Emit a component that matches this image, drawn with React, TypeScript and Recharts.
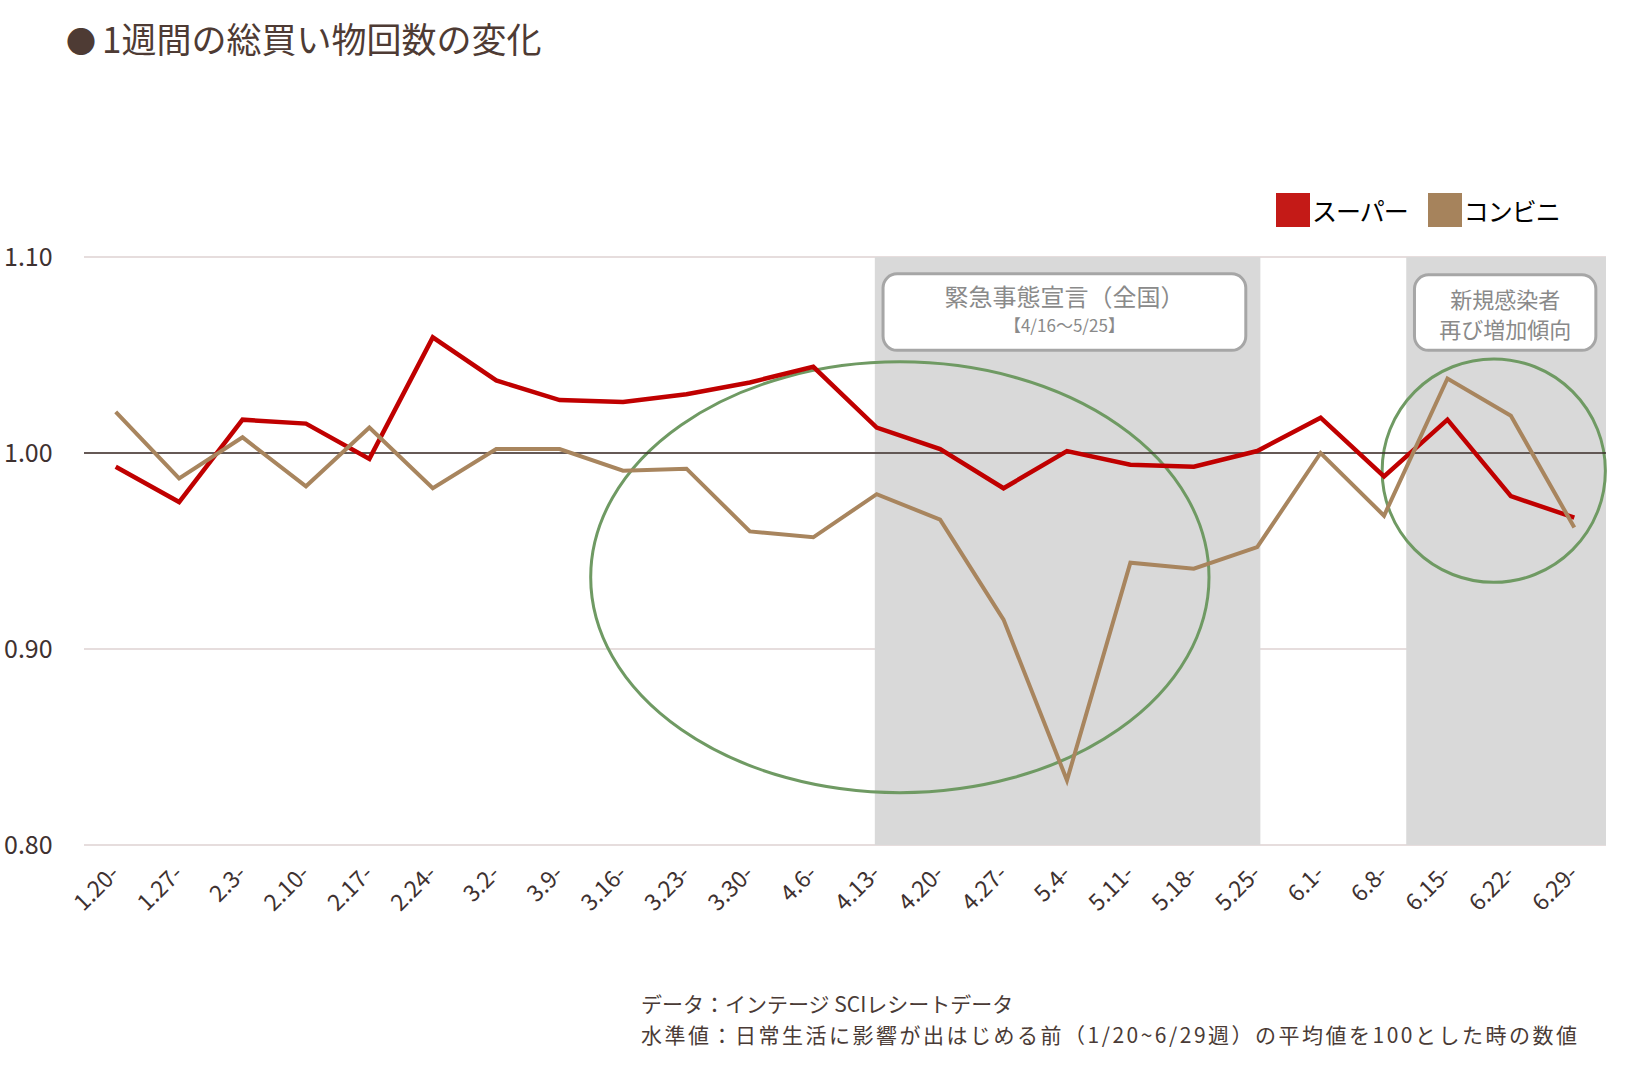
import { CartesianGrid, Line, LineChart, ReferenceArea, ReferenceLine, XAxis, YAxis } from 'recharts';

// week labels (start day of each week)
const categories = [
  '1.20-', '1.27-', '2.3-', '2.10-', '2.17-', '2.24-', '3.2-', '3.9-', '3.16-', '3.23-', '3.30-', '4.6-',
  '4.13-', '4.20-', '4.27-', '5.4-', '5.11-', '5.18-', '5.25-', '6.1-', '6.8-', '6.15-', '6.22-', '6.29-',
];
const superValues = [
  0.993, 0.975, 1.017, 1.015, 0.997, 1.059, 1.037, 1.027, 1.026, 1.030, 1.036, 1.044,
  1.013, 1.002, 0.982, 1.001, 0.994, 0.993, 1.001, 1.018, 0.988, 1.017, 0.978, 0.967,
];
const konbiniValues = [
  1.021, 0.987, 1.008, 0.983, 1.013, 0.982, 1.002, 1.002, 0.991, 0.992, 0.960, 0.957,
  0.979, 0.966, 0.915, 0.833, 0.944, 0.941, 0.952, 1.000, 0.968, 1.038, 1.019, 0.962,
];
const yTicks = [0.8, 0.9, 1.0, 1.1];
const seriesNames = ['スーパー', 'コンビニ'];
const notes = [
  'データ：インテージ SCIレシートデータ',
  '水準値：日常生活に影響が出はじめる前（1/20~6/29週）の平均値を100とした時の数値',
];

const RED = '#c00000';
const TAN = '#a8855e';
const GREEN = '#6f9a63';
const FONT = '"Noto Sans CJK JP", "Noto Sans", sans-serif';
const INK = '#3e3130';

const data = categories.map((label, i) => ({
  i,
  label,
  super: superValues[i],
  konbini: konbiniValues[i],
}));

const XTick = (props: any) => {
  const { x, y, payload } = props;
  return (
    <text
      x={x + 5}
      y={y + 22}
      textAnchor="end"
      fontSize={23}
      fill={INK}
      fontFamily={FONT}
      transform={`rotate(-45 ${x + 5} ${y + 22})`}
    >
      {categories[payload.value]}
    </text>
  );
};

const YTick = (props: any) => {
  const { y, payload } = props;
  return (
    <text x={4} y={y} dy={9} textAnchor="start" fontSize={25} fill={INK} fontFamily={FONT}>
      {Number(payload.value).toFixed(2)}
    </text>
  );
};

// ellipse inscribed in the reference rect
const ellipseShape = (p: any) => (
  <ellipse
    cx={p.x + p.width / 2}
    cy={p.y + p.height / 2}
    rx={p.width / 2}
    ry={p.height / 2}
    fill="none"
    stroke={GREEN}
    strokeWidth={3}
  />
);

const calloutShape = (lines: { text: string; size: number; dy: number }[]) => (p: any) => (
  <g>
    <rect
      x={p.x}
      y={p.y}
      width={p.width}
      height={p.height}
      rx={14}
      ry={14}
      fill="#fff"
      stroke="#a6a6a6"
      strokeWidth={3}
    />
    {lines.map((l, k) => (
      <text
        key={k}
        x={p.x + p.width / 2}
        y={p.y + l.dy}
        textAnchor="middle"
        fontSize={l.size}
        fill="#8a8a8a"
        fontFamily={FONT}
      >
        {l.text}
      </text>
    ))}
  </g>
);

export default function App() {
  return (
    <div
      style={{
        position: 'absolute',
        left: 0,
        top: 0,
        width: 1645,
        height: 1065,
        background: '#fff',
        fontFamily: FONT,
        overflow: 'hidden',
      }}
    >
      <div style={{ position: 'absolute', left: 66, top: 12, fontSize: 35, color: '#4e3b34', whiteSpace: 'nowrap' }}>
        <span style={{ fontSize: 30, marginRight: 6 }}>●</span>1週間の総買い物回数の変化
      </div>

      <div
        style={{
          position: 'absolute',
          left: 1276,
          top: 192,
          display: 'flex',
          alignItems: 'center',
          fontSize: 25,
          color: '#000',
        }}
      >
        {seriesNames.map((n, k) => (
          <div key={n} style={{ display: 'flex', alignItems: 'center', marginRight: 20 }}>
            <div style={{ width: 34, height: 34, background: k === 0 ? '#c41a17' : '#a6835c', marginRight: 2 }} />
            <span style={{ letterSpacing: -1 }}>{n}</span>
          </div>
        ))}
      </div>

      <div style={{ position: 'absolute', left: 0, top: 0 }}>
        <LineChart width={1645} height={1065} data={data} margin={{ top: 257, right: 39, bottom: 160, left: 0 }}>
          <CartesianGrid horizontal vertical={false} stroke="#e6dddd" strokeWidth={2} />
          <ReferenceArea x1={11.97} x2={18.05} y1={0.8} y2={1.1} fill="#d9d9d9" fillOpacity={1} stroke="none" />
          <ReferenceArea x1={20.35} x2={23.5} y1={0.8} y2={1.1} fill="#d9d9d9" fillOpacity={1} stroke="none" />
          <ReferenceLine y={1} stroke="#3a2c29" strokeWidth={1.5} />
          <XAxis
            dataKey="i"
            type="number"
            domain={[-0.5, 23.5]}
            ticks={categories.map((_, i) => i)}
            interval={0}
            tick={<XTick />}
            axisLine={false}
            tickLine={false}
            height={60}
          />
          <YAxis
            domain={[0.8, 1.1]}
            ticks={yTicks}
            tick={<YTick />}
            axisLine={false}
            tickLine={false}
            width={84}
          />
          <Line
            dataKey="super"
            name={seriesNames[0]}
            stroke={RED}
            strokeWidth={4.5}
            dot={false}
            isAnimationActive={false}
          />
          <Line
            dataKey="konbini"
            name={seriesNames[1]}
            stroke={TAN}
            strokeWidth={4}
            dot={false}
            isAnimationActive={false}
          />
          <ReferenceArea x1={7.49} x2={17.24} y1={0.8267} y2={1.0465} shape={ellipseShape} />
          <ReferenceArea x1={19.97} x2={23.49} y1={0.934} y2={1.048} shape={ellipseShape} />
          <ReferenceArea
            x1={12.1}
            x2={17.82}
            y1={1.0524}
            y2={1.0914}
            shape={calloutShape([
              { text: '緊急事態宣言（全国）', size: 24, dy: 32 },
              { text: '【4/16～5/25】', size: 17, dy: 58 },
            ])}
          />
          <ReferenceArea
            x1={20.48}
            x2={23.34}
            y1={1.0524}
            y2={1.0909}
            shape={calloutShape([
              { text: '新規感染者', size: 22, dy: 33 },
              { text: '再び増加傾向', size: 22, dy: 63 },
            ])}
          />
        </LineChart>
      </div>

      {notes.map((t, k) => (
        <div
          key={k}
          style={{
            position: 'absolute',
            left: 641,
            top: 992 + k * 31,
            fontSize: 21,
            lineHeight: '22px',
            letterSpacing: k === 1 ? 2.5 : 0,
            color: '#4a3b36',
            whiteSpace: 'nowrap',
          }}
        >
          {t}
        </div>
      ))}
    </div>
  );
}
